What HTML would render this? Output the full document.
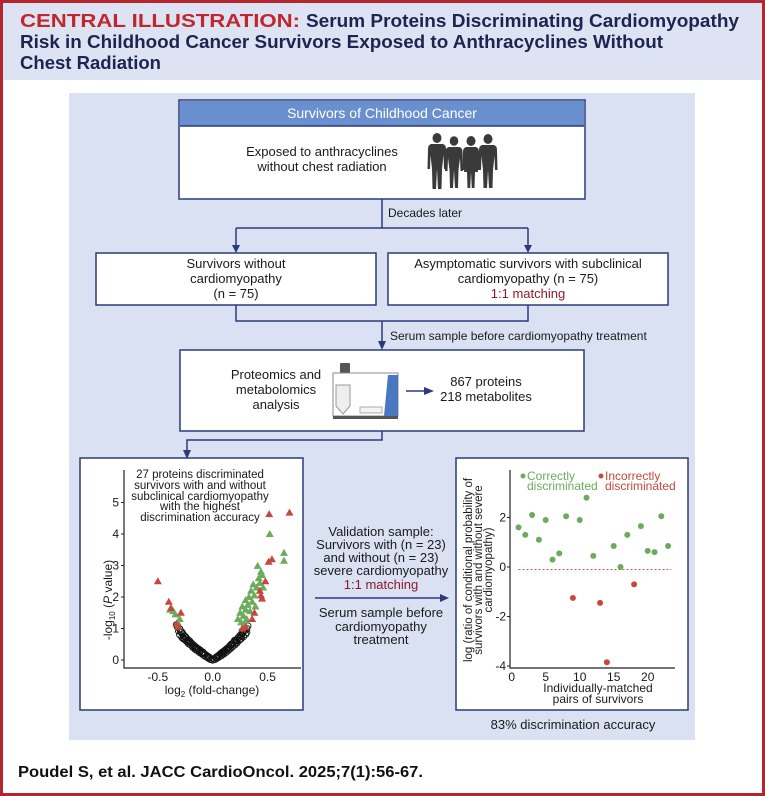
<!DOCTYPE html>
<html><head><meta charset="utf-8"><style>
html,body{margin:0;padding:0;background:#fff}
svg{display:block;font-family:"Liberation Sans",sans-serif}
</style></head><body>
<svg id="root" width="765" height="796" viewBox="0 0 765 796" xmlns="http://www.w3.org/2000/svg">
<rect x="0" y="0" width="765" height="796" fill="#fff"/>
<rect x="0" y="0" width="765" height="80" fill="#dde3f3"/>
<rect x="1.5" y="1.5" width="762" height="793" fill="none" stroke="#b3262e" stroke-width="3"/>
<g font-weight="bold" font-size="18">
<text x="20" y="27" fill="#c0272d" textLength="280" lengthAdjust="spacingAndGlyphs">CENTRAL ILLUSTRATION:</text>
<text x="306" y="27" fill="#1b2550" textLength="433" lengthAdjust="spacingAndGlyphs">Serum Proteins Discriminating Cardiomyopathy</text>
<text x="20" y="48" fill="#1b2550" textLength="643" lengthAdjust="spacingAndGlyphs">Risk in Childhood Cancer Survivors Exposed to Anthracyclines Without</text>
<text x="20" y="69" fill="#1b2550" textLength="141" lengthAdjust="spacingAndGlyphs">Chest Radiation</text>
</g>
<rect x="69" y="93" width="626" height="647" fill="#d9e1f2"/>

<g stroke="#2b3a7a" stroke-width="1.5" fill="none">
<rect x="179" y="100" width="406" height="99" fill="#fff"/>
<path d="M382 199 V228 M236 228 H528 M236 228 V246 M528 228 V246"/>
<rect x="96" y="253" width="280" height="52" fill="#fff"/>
<rect x="388" y="253" width="280" height="52" fill="#fff"/>
<path d="M236 305 V321 H528 V305 M382 321 V342"/>
<rect x="180" y="350" width="404" height="81" fill="#fff"/>
<path d="M382 431 V440 H187 V452"/>
<path d="M315 598 H440"/>
<path d="M406 391 H425"/>
</g>
<g fill="#2b3a7a">
<path d="M232 245 H240 L236 253 Z"/><path d="M524 245 H532 L528 253 Z"/>
<path d="M378 341 H386 L382 350 Z"/><path d="M183 450 H191 L187 459 Z"/>
<path d="M440 594 L449 598 L440 602 Z"/><path d="M424 387 L434 391 L424 395 Z"/>
</g>
<rect x="180" y="101" width="404" height="25" fill="#6a8fcf"/>
<line x1="180" y1="126" x2="584" y2="126" stroke="#2b3a7a" stroke-width="1.5"/>
<g font-size="13" text-anchor="middle" fill="#1a1a1a">
<text x="382" y="118" fill="#fff" font-size="14">Survivors of Childhood Cancer</text>
<text x="322" y="156">Exposed to anthracyclines</text>
<text x="322" y="171">without chest radiation</text>
<text x="388" y="217" text-anchor="start" font-size="12">Decades later</text>
<text x="236" y="268">Survivors without</text>
<text x="236" y="283">cardiomyopathy</text>
<text x="236" y="298">(n = 75)</text>
<text x="528" y="268">Asymptomatic survivors with subclinical</text>
<text x="528" y="283">cardiomyopathy (n = 75)</text>
<text x="528" y="298" fill="#8b1a2b">1:1 matching</text>
<text x="390" y="340" text-anchor="start" font-size="12">Serum sample before cardiomyopathy treatment</text>
<text x="276" y="379">Proteomics and</text>
<text x="276" y="394">metabolomics</text>
<text x="276" y="409">analysis</text>
<text x="486" y="386">867 proteins</text>
<text x="486" y="401">218 metabolites</text>
<text x="381" y="536">Validation sample:</text>
<text x="381" y="549">Survivors with (n = 23)</text>
<text x="381" y="562">and without (n = 23)</text>
<text x="381" y="575">severe cardiomyopathy</text>
<text x="381" y="589" fill="#8b1a2b">1:1 matching</text>
<text x="381" y="617">Serum sample before</text>
<text x="381" y="631">cardiomyopathy</text>
<text x="381" y="644">treatment</text>
<text x="573" y="729">83% discrimination accuracy</text>
</g>
<g fill="#3a3a3a">
<g transform="translate(437,133)"><ellipse cx="0" cy="5" rx="4.5" ry="5"/><path d="M-6 11 H6 Q9 12 9 16 L9.5 36 H7 L6.5 22 L5 36 L4.5 56 H1 L0 36 L-1 56 H-4.5 L-5 36 L-6.5 22 L-7 36 H-9.5 L-9 16 Q-9 12 -6 11 Z"/></g>
<g transform="translate(454,136)"><ellipse cx="0" cy="5" rx="4.3" ry="4.8"/><path d="M-5.5 11 H5.5 Q8.5 12 8.5 16 L9 35 H6.5 L6 22 L4.5 34 L4 52 H1 L0 34 L-1 52 H-4 L-4.5 34 L-6 22 L-6.5 35 H-9 L-8.5 16 Q-8.5 12 -5.5 11 Z"/></g>
<g transform="translate(471,136)"><ellipse cx="0" cy="5" rx="4.5" ry="5"/><path d="M-5 11 H5 Q8 12 8 16 L8.5 34 H6 L5.5 22 L7 36 H4 L3.5 52 H0.8 L0 36 L-0.8 52 H-3.5 L-4 36 H-7 L-5.5 22 L-6 34 H-8.5 L-8 16 Q-8 12 -5 11 Z"/></g>
<g transform="translate(488,134)"><ellipse cx="0" cy="5" rx="4.5" ry="5"/><path d="M-6 11 H6 Q9 12 9 16 L9.5 36 H7 L6.5 22 L5 36 L4.5 54 H1 L0 36 L-1 54 H-4.5 L-5 36 L-6.5 22 L-7 36 H-9.5 L-9 16 Q-9 12 -6 11 Z"/></g>
</g>
<g>
<rect x="340" y="363" width="10" height="10" fill="#555" rx="1"/>
<rect x="333" y="373" width="65" height="43" fill="#fff" stroke="#888" stroke-width="1"/>
<path d="M388 375 L398 375 L398 416 L384 416 Z" fill="#4a78c0"/>
<path d="M336 385 H350 V406 L343 414 L336 406 Z" fill="#eee" stroke="#999"/>
<rect x="360" y="407" width="22" height="6" fill="#f4f4f4" stroke="#999" stroke-width="0.8"/>
<rect x="333" y="416" width="65" height="3" fill="#555"/>
</g>

<rect x="80" y="458" width="223" height="252" fill="#fff" stroke="#2b3a7a" stroke-width="1.5"/>
<rect x="456" y="458" width="232" height="252" fill="#fff" stroke="#2b3a7a" stroke-width="1.5"/>
<g id="volcano"></g>
<g id="valid"></g>
<g font-size="11.5" text-anchor="middle" fill="#1a1a1a">
<text x="200" y="478">27 proteins discriminated</text>
<text x="200" y="489">survivors with and without</text>
<text x="200" y="500">subclinical cardiomyopathy</text>
<text x="200" y="510">with the highest</text>
<text x="200" y="521">discrimination accuracy</text>
</g>
<text x="18" y="777" font-size="16" font-weight="bold" fill="#111" textLength="405" lengthAdjust="spacingAndGlyphs">Poudel S, et al. JACC CardioOncol. 2025;7(1):56-67.</text>
</svg>
<script>
const NS="http://www.w3.org/2000/svg";
// Volcano data
const blackX=[-0.33,-0.32,-0.30,-0.29,-0.28,-0.27,-0.26,-0.25,-0.24,-0.22,-0.21,-0.20,-0.19,-0.17,-0.16,-0.15,-0.13,-0.12,-0.11,-0.09,-0.08,-0.07,-0.05,-0.03,-0.01,0.0,0.01,0.03,0.05,0.06,0.07,0.09,0.10,0.11,0.13,0.14,0.15,0.17,0.18,0.19,0.20,0.21,0.22,0.23,0.24,0.25,0.26,0.27,0.28,0.29,0.30,0.31,-0.31,-0.27,-0.23,-0.18,-0.14,-0.10,-0.04,0.04,0.08,0.12,0.16,0.27,0.29,
 -0.30,-0.28,-0.26,-0.24,-0.22,-0.20,-0.18,-0.16,-0.14,-0.12,-0.10,-0.08,-0.06,-0.04,-0.02,0.02,0.04,0.06,0.08,0.10,0.12,0.14,0.16,0.18,0.20,0.22,0.24,0.26,0.28,0.30,-0.25,-0.21,-0.15,-0.09,0.09,0.15,0.21,0.25,0.32,0.31];
const blackY=[1.12,1.05,0.98,0.90,0.88,0.82,0.76,0.74,0.70,0.63,0.56,0.55,0.52,0.46,0.40,0.40,0.35,0.29,0.30,0.25,0.20,0.18,0.13,0.08,0.03,0.0,0.03,0.08,0.13,0.16,0.19,0.25,0.27,0.30,0.36,0.38,0.42,0.50,0.50,0.56,0.62,0.62,0.62,0.70,0.72,0.78,0.76,0.85,0.95,0.93,0.95,1.0,0.92,0.68,0.58,0.44,0.36,0.24,0.10,0.11,0.22,0.33,0.46,0.92,1.02,
 0.80,0.72,0.66,0.60,0.52,0.48,0.40,0.34,0.30,0.24,0.20,0.14,0.10,0.06,0.02,0.02,0.06,0.10,0.14,0.19,0.24,0.30,0.36,0.42,0.48,0.54,0.62,0.68,0.74,0.82,0.64,0.60,0.34,0.22,0.20,0.34,0.56,0.66,1.08,0.88];
const greenX=[0.23,0.25,0.27,0.28,0.30,0.30,0.32,0.33,0.34,0.35,0.36,0.37,0.38,0.39,0.40,0.41,0.42,0.43,0.44,0.45,0.46,0.26,0.29,0.31,0.52,0.65,0.65,-0.39,-0.36,-0.30,-0.34,-0.32];
const greenY=[1.3,1.5,1.7,1.4,1.6,1.9,1.75,2.0,1.55,2.2,1.85,2.4,2.05,1.7,2.3,2.99,2.6,2.45,2.8,2.7,2.3,1.2,1.15,1.3,4.0,3.4,3.15,1.6,1.55,1.3,1.45,1.2];
const redX=[0.515,0.70,0.51,0.54,0.48,0.43,0.44,0.45,0.38,0.36,0.30,0.27,-0.50,-0.40,-0.38,-0.29,-0.33,-0.31];
const redY=[4.63,4.68,3.12,3.2,2.5,2.2,2.05,1.95,1.5,1.3,1.05,1.0,2.5,1.85,1.65,1.5,1.15,1.05];
const vYTicks=[0,1,2,3,4,5];
const vXTicks=[-0.5,0.0,0.5];
const vXLabels=["-0.5","0.0","0.5"];
// Validation data
const pairs=[1,2,3,4,5,6,7,8,9,10,11,12,13,14,15,16,17,18,19,20,21,22,23];
const logRatio=[1.6,1.3,2.1,1.1,1.9,0.3,0.55,2.05,-1.25,1.9,2.8,0.45,-1.45,-3.85,0.85,0.0,1.3,-0.7,1.65,0.65,0.6,2.05,0.85];
const correct=[1,1,1,1,1,1,1,1,0,1,1,1,0,0,1,1,1,0,1,1,1,1,1];
const rXTicks=[0,5,10,15,20];
const rYTicks=[2,0,-2,-4];
const threshold=-0.1;

function el(tag,attrs,parent){const e=document.createElementNS(NS,tag);for(const k in attrs)e.setAttribute(k,attrs[k]);parent.appendChild(e);return e;}
const GREEN="#6bab5c", RED="#c4483b";

const vx=v=>212.7+v*109.7, vy=v=>660-v*31.5;
const V=document.getElementById('volcano');
let a=el('path',{d:"M124 470 V668 H301",stroke:"#222","stroke-width":1.2,fill:"none"},V);


vYTicks.forEach(t=>{
  el('line',{x1:121,x2:124,y1:vy(t),y2:vy(t),stroke:"#222"},V);
  const tx=el('text',{x:119,y:vy(t)+4,"font-size":12,"text-anchor":"end",fill:"#1a1a1a"},V);tx.textContent=t;
  
  
});
vXTicks.forEach((t,i)=>{
  const tx=el('text',{x:vx(t),y:681,"font-size":12,"text-anchor":"middle",fill:"#1a1a1a"},V);tx.textContent=vXLabels[i];
  
  
});
let xt=el('text',{x:212,y:694,"font-size":12,"text-anchor":"middle",fill:"#1a1a1a"},V);
xt.innerHTML='log<tspan font-size="8" dy="3">2</tspan><tspan dy="-3"> (fold-change)</tspan>';


let yt=el('text',{x:0,y:0,"font-size":12,"text-anchor":"middle",fill:"#1a1a1a",transform:"translate(112,600) rotate(-90)"},V);
yt.innerHTML='-log<tspan font-size="8" dy="3">10</tspan><tspan dy="-3"> (</tspan><tspan font-style="italic">P</tspan> value)';


blackX.forEach((x,i)=>{
  const c=el('circle',{cx:vx(x),cy:vy(blackY[i]),r:3.2,fill:"none",stroke:"#111","stroke-width":0.9},V);
  
  
});
function tri(x,y,col){const px=vx(x),py=vy(y);
  return el('path',{d:`M${px} ${py-4} L${px+4} ${py+3} L${px-4} ${py+3} Z`,fill:col},V);}
greenX.forEach((x,i)=>{const t=tri(x,greenY[i],GREEN);
  
  });
redX.forEach((x,i)=>{const t=tri(x,redY[i],RED);
  
  });

const rx=v=>511.7+v*6.8, ry=v=>567-v*24.75;
const R=document.getElementById('valid');
a=el('path',{d:"M510 470 V668 H675",stroke:"#222","stroke-width":1.2,fill:"none"},R);


rYTicks.forEach(t=>{
  el('line',{x1:507,x2:510,y1:ry(t),y2:ry(t),stroke:"#222"},R);
  const tx=el('text',{x:506,y:ry(t)+4,"font-size":12,"text-anchor":"end",fill:"#1a1a1a"},R);tx.textContent=t;
  
  
});
rXTicks.forEach(t=>{
  const tx=el('text',{x:rx(t),y:681,"font-size":12,"text-anchor":"middle",fill:"#1a1a1a"},R);tx.textContent=t;
  
  
});
["Individually-matched","pairs of survivors"].forEach((s,i)=>{
  const tx=el('text',{x:598,y:692+i*11,"font-size":12,"text-anchor":"middle",fill:"#1a1a1a"},R);tx.textContent=s;
  
  
});
["log (ratio of conditional probability of","survivors with and without severe","cardiomyopathy)"].forEach((s,i)=>{
  const tx=el('text',{x:0,y:0,"font-size":11.5,"text-anchor":"middle",fill:"#1a1a1a",transform:`translate(${472+i*10},570) rotate(-90)`},R);tx.textContent=s;
  
  
});
const th=el('line',{x1:rx(1),x2:rx(23.5),y1:ry(threshold),y2:ry(threshold),stroke:"#c4483b","stroke-width":0.9,"stroke-dasharray":"2 2"},R);


pairs.forEach((p,i)=>{
  const c=el('circle',{cx:rx(p),cy:ry(logRatio[i]),r:3,fill:correct[i]?GREEN:RED},R);
  
  
});
const lg=[[523,"Correctly",GREEN],[601,"Incorrectly",RED]];
lg.forEach(([x,s,col])=>{
  const d=el('circle',{cx:x,cy:476,r:2.5,fill:col},R);
  
  
  const t1=el('text',{x:x+4,y:480,"font-size":12,fill:col},R);t1.textContent=s;
  
  
  const t2=el('text',{x:x+4,y:490,"font-size":12,fill:col},R);t2.textContent="discriminated";
  
  
});
</script>
</body></html>
